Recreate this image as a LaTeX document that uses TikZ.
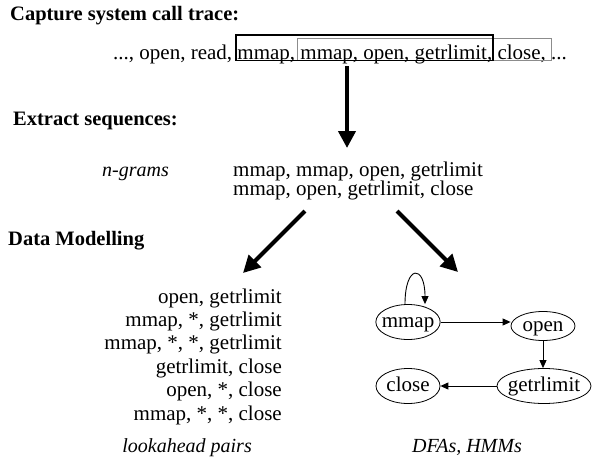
\documentclass[tikz,border=0pt]{standalone}
\usepackage{fontspec}
\setmainfont{Liberation Serif}
\usetikzlibrary{arrows.meta,shapes.geometric,calc}
\definecolor{frame2}{RGB}{140,140,140}

\begin{document}
\begin{tikzpicture}[x=1pt,y=-1pt,
  txt/.style={inner sep=0pt, font=\fontsize{21}{21}\selectfont},
  head/.style={inner sep=0pt, anchor=base west, font=\fontsize{20.5}{20.5}\selectfont\bfseries},
  lbl/.style={inner sep=0pt, font=\fontsize{20}{20}\selectfont\itshape},
  bigarrow/.style={line width=4pt, -{Triangle[width=17pt,length=17pt]}},
  thinarrow/.style={line width=0.9pt, -{Triangle[width=7pt,length=8pt]}},
  state/.style={ellipse, draw, line width=0.8pt, inner xsep=-3.5pt, inner ysep=0pt,
    text height=14.5pt, text depth=4.5pt, minimum width=64pt, minimum height=35pt,
    font=\fontsize{21}{21}\selectfont},
]
\useasboundingbox (0,0) rectangle (592,461);

% section headings
\node[head] (h1) at (10,20) {Capture system call trace:};
\node[head] (h2) at (13,125) {Extract sequences:};
\node[head] (h3) at (8,245) {Data Modelling};

% system call trace with its two sliding windows
\node[txt, anchor=base west] (trace) at (113,59)
  {..., open, read, mmap, mmap, open, getrlimit, close, ...};
\draw[frame2, line width=1pt] (297,38) rectangle (551,60.5);
\draw[line width=1.3pt] (236,35) rectangle (493,60.5);

% extracted n-grams
\node[lbl, anchor=base west] (nglabel) at (102,176) {n-grams};
\node[txt, anchor=base west] (ng1) at (233,176) {mmap, mmap, open, getrlimit};
\node[txt, anchor=base west] (ng2) at (233,195) {mmap, open, getrlimit, close};

% flow arrows
\coordinate (tr-out) at (347,66);
\coordinate (ng-in) at (347,148);
\coordinate (ng-outl) at (305,211);
\coordinate (la-in) at (243,273);
\coordinate (ng-outr) at (397,211);
\coordinate (dfa-in) at (458,272);
\draw[bigarrow] (tr-out) -- (ng-in);
\draw[bigarrow] (ng-outl) -- (la-in);
\draw[bigarrow] (ng-outr) -- (dfa-in);

% lookahead pairs
\foreach \t [count=\i] in {{open, getrlimit},{mmap, *, getrlimit},{mmap, *, *, getrlimit},
    {getrlimit, close},{open, *, close},{mmap, *, *, close}}
  \node[txt, anchor=base east] (la\i) at (282,{303+23.4*(\i-1)}) {\t};
\node[lbl, anchor=base east] (lalabel) at (252,452) {lookahead pairs};

% automaton
\node[state] (mmap) at (408,322) {mmap};
\node[state, minimum height=29pt] (open) at (543,326) {open};
\node[state, minimum width=94pt] (getr) at (544,386) {getrlimit};
\node[state] (close) at (408,386) {close};
\draw[thinarrow] ([xshift=-3pt]mmap.north) .. controls +(0,-40) and +(0,-40) .. ([xshift=17pt]mmap.north);
\draw[thinarrow] (mmap.east) -- (mmap.east -| open.west);
\draw[thinarrow] (open.south) -- (open.south |- getr.north);
\draw[thinarrow] (getr.west) -- (close.east);
\node[lbl, anchor=base west] (dfalabel) at (412,452) {DFAs, HMMs};
\end{tikzpicture}
\end{document}
